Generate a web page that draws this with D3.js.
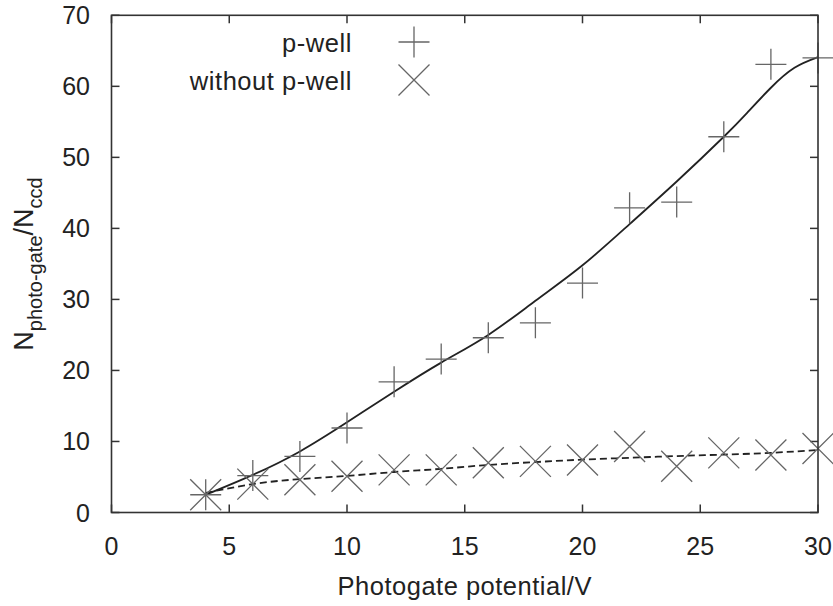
<!DOCTYPE html>
<html>
<head>
<meta charset="utf-8">
<script src="https://cdn.jsdelivr.net/npm/d3@7"></script>
<style>
  body { margin: 0; background: #fff; }
  text { font-family: "Liberation Sans", Arial, sans-serif; fill: #222; }
</style>
</head>
<body>
<div id="chart"></div>
<script>
const width = 833;
const height = 606;

// measured points
const voltages = [4, 6, 8, 10, 12, 14, 16, 18, 20, 22, 24, 26, 28, 30];
const pWell = [2.5, 5.2, 7.9, 11.9, 18.4, 21.6, 24.6, 26.7, 32.3, 42.9, 43.7, 52.9, 63.1, 64.0];
const noWell = [2.5, 4.0, 4.6, 5.1, 6.0, 6.0, 7.0, 7.2, 7.4, 9.3, 6.5, 8.4, 8.1, 9.0];

// fitted curves
const pWellFitX = [4, 6, 8, 10, 12, 14, 16, 18, 20, 22, 24, 26, 27, 28, 29, 30];
const pWellFitY = [2.5, 5.3, 8.6, 12.7, 17.0, 21.1, 25.0, 29.8, 34.8, 40.6, 46.6, 52.9, 56.3, 59.8, 62.6, 64.1];
const noWellFitX = [4, 6, 8, 10, 12, 14, 16, 18, 20, 22, 24, 26, 28, 30];
const noWellFitY = [2.75, 4.0, 4.7, 5.15, 5.7, 6.15, 6.7, 7.1, 7.45, 7.7, 7.95, 8.15, 8.4, 8.8];

const xTicks = [0, 5, 10, 15, 20, 25, 30];
const yTicks = [0, 10, 20, 30, 40, 50, 60, 70];

const margin = { left: 111.5, right: 833 - 818, top: 15.3, bottom: 606 - 512.5 };

const svg = d3.select("#chart")
    .append("svg")
    .attr("width", width)
    .attr("height", height);

const x = d3.scaleLinear().domain([0, 30]).range([margin.left, width - margin.right]);
const y = d3.scaleLinear().domain([0, 70]).range([height - margin.bottom, margin.top]);

const frameColor = "#333";
const tickLen = 8;

// ticks (inside, mirrored)
const tickG = svg.append("g").attr("stroke", frameColor).attr("stroke-width", 1.5);
xTicks.forEach(t => {
    tickG.append("line").attr("x1", x(t)).attr("x2", x(t)).attr("y1", y(0)).attr("y2", y(0) - tickLen);
    tickG.append("line").attr("x1", x(t)).attr("x2", x(t)).attr("y1", y(70)).attr("y2", y(70) + tickLen);
});
yTicks.forEach(t => {
    tickG.append("line").attr("x1", x(0)).attr("x2", x(0) + tickLen).attr("y1", y(t)).attr("y2", y(t));
    tickG.append("line").attr("x1", x(30)).attr("x2", x(30) - tickLen).attr("y1", y(t)).attr("y2", y(t));
});

svg.append("g").selectAll("text")
    .data(xTicks)
    .enter().append("text")
    .attr("x", d => x(d))
    .attr("y", 555)
    .attr("text-anchor", "middle")
    .attr("font-size", 25)
    .text(d => d);

svg.append("g").selectAll("text")
    .data(yTicks)
    .enter().append("text")
    .attr("x", 90)
    .attr("y", d => y(d) + 9)
    .attr("text-anchor", "end")
    .attr("font-size", 25)
    .text(d => d);

// fit curves
const fitLine = d3.line()
    .x(d => x(d[0]))
    .y(d => y(d[1]))
    .curve(d3.curveNatural);

svg.append("path")
    .datum(pWellFitX.map((v, i) => [v, pWellFitY[i]]))
    .attr("d", fitLine)
    .attr("fill", "none")
    .attr("stroke", "#222")
    .attr("stroke-width", 1.8);

svg.append("path")
    .datum(noWellFitX.map((v, i) => [v, noWellFitY[i]]))
    .attr("d", fitLine)
    .attr("fill", "none")
    .attr("stroke", "#222")
    .attr("stroke-width", 1.8)
    .attr("stroke-dasharray", "7,4");

// markers
const markColor = "#666";
const plusR = 15.5;
const crossR = 15.5;

function plusPath(cx, cy) {
    return `M${cx - plusR},${cy}H${cx + plusR}M${cx},${cy - plusR}V${cy + plusR}`;
}
function crossPath(cx, cy) {
    return `M${cx - crossR},${cy - crossR}L${cx + crossR},${cy + crossR}M${cx - crossR},${cy + crossR}L${cx + crossR},${cy - crossR}`;
}

svg.append("g").selectAll("path")
    .data(voltages.map((v, i) => [v, pWell[i]]))
    .enter().append("path")
    .attr("d", d => plusPath(x(d[0]), y(d[1])))
    .attr("stroke", markColor)
    .attr("stroke-width", 1.3)
    .attr("fill", "none");

svg.append("g").selectAll("path")
    .data(voltages.map((v, i) => [v, noWell[i]]))
    .enter().append("path")
    .attr("d", d => crossPath(x(d[0]), y(d[1])))
    .attr("stroke", markColor)
    .attr("stroke-width", 1.3)
    .attr("fill", "none");

// frame
svg.append("rect")
    .attr("x", x(0))
    .attr("y", y(70))
    .attr("width", x(30) - x(0))
    .attr("height", y(0) - y(70))
    .attr("fill", "none")
    .attr("stroke", frameColor)
    .attr("stroke-width", 1.6);

// legend
const legend = [
    { label: "p-well", y: 42, path: plusPath },
    { label: "without p-well", y: 80, path: crossPath }
];
legend.forEach(l => {
    svg.append("text")
        .attr("x", 352)
        .attr("y", l.y + 10)
        .attr("text-anchor", "end")
        .attr("font-size", 25.5)
        .attr("letter-spacing", 0.55)
        .text(l.label);
    svg.append("path")
        .attr("d", l.path(414, l.y))
        .attr("stroke", markColor)
        .attr("stroke-width", 1.3)
        .attr("fill", "none");
});

// axis titles
svg.append("text")
    .attr("x", (x(0) + x(30)) / 2)
    .attr("y", 595)
    .attr("text-anchor", "middle")
    .attr("font-size", 25.5)
    .attr("letter-spacing", 0.5)
    .text("Photogate potential/V");

const yTitle = svg.append("text")
    .attr("transform", `translate(33,264) rotate(-90)`)
    .attr("text-anchor", "middle")
    .attr("font-size", 27);
yTitle.append("tspan").text("N");
yTitle.append("tspan").attr("font-size", 20).attr("dy", 9).text("photo-gate");
yTitle.append("tspan").attr("dy", -9).text("/N");
yTitle.append("tspan").attr("font-size", 20).attr("dy", 9).text("ccd");
</script>
</body>
</html>
